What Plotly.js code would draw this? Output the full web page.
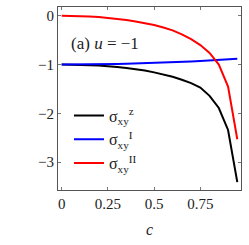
<!DOCTYPE html>
<html><head><meta charset="utf-8">
<script src="https://cdn.plot.ly/plotly-3.0.1.min.js"></script>
<style>html,body{margin:0;padding:0;background:#fff;}#g{width:249px;height:245px;}</style>
</head><body><div id="g"></div>
<script>
const c = [0,0.05,0.1,0.15,0.2,0.25,0.3,0.35,0.4,0.45,0.5,0.55,0.6,0.65,0.7,0.75,0.8,0.85,0.9,0.95];
const sigmaZ = [-1.0,-1.001,-1.005,-1.012,-1.02,-1.03,-1.05,-1.07,-1.09,-1.12,-1.16,-1.2,-1.25,-1.31,-1.38,-1.47,-1.64,-1.89,-2.34,-3.41];
const sigmaI = [-1.0,-1.0,-0.999,-0.997,-0.995,-0.992,-0.988,-0.984,-0.979,-0.974,-0.968,-0.961,-0.953,-0.945,-0.936,-0.927,-0.917,-0.906,-0.895,-0.882];
const sigmaII = [0,-0.002,-0.007,-0.015,-0.027,-0.042,-0.06,-0.085,-0.115,-0.15,-0.19,-0.24,-0.3,-0.38,-0.48,-0.6,-0.76,-1.0,-1.45,-2.53];
const xTicks = [0,0.25,0.5,0.75];
const xTickText = ['0','0.25','0.5','0.75'];
const yTicks = [0,-1,-2,-3];
const yTickText = ['0','−1','−2','−3'];
const names = ['σ<sub>xy</sub><sup>z</sup>','σ<sub>xy</sub><sup>I</sup>','σ<sub>xy</sub><sup>II</sup>'];
const font = {family:'Liberation Serif, DejaVu Serif, serif', size:15, color:'#222'};
const traces = [
  {x:c,y:sigmaZ,name:names[0],mode:'lines',line:{color:'#000',width:2}},
  {x:c,y:sigmaI,name:names[1],mode:'lines',line:{color:'#0000ff',width:2}},
  {x:c,y:sigmaII,name:names[2],mode:'lines',line:{color:'#ff0000',width:2}}
];
const ax = {showgrid:false,zeroline:false,showline:true,mirror:'ticks',linecolor:'#555',linewidth:1,
  ticks:'inside',ticklen:3,tickcolor:'#777',tickfont:font};
const layout = {
  width:249,height:245,margin:{l:58,r:8,t:7,b:55},
  paper_bgcolor:'#fff',plot_bgcolor:'#fff',font:font,
  xaxis:Object.assign({},ax,{range:[-0.02,0.97],tickvals:xTicks,ticktext:xTickText,
    title:{text:'<i>c</i>',font:Object.assign({},font,{size:16}),standoff:12}}),
  yaxis:Object.assign({},ax,{range:[-3.57,0.18],tickvals:yTicks,ticktext:yTickText}),
  showlegend:true,
  legend:{x:0.06,y:0.5,xanchor:'left',yanchor:'top',bgcolor:'rgba(0,0,0,0)',font:Object.assign({},font,{size:16}),
    tracegroupgap:0,itemwidth:30},
  annotations:[{xref:'paper',yref:'paper',x:0.06,y:0.80,xanchor:'left',yanchor:'middle',showarrow:false,
    text:'(a) <i>u</i> = −1',font:Object.assign({},font,{size:17})}]
};
Plotly.newPlot('g',traces,layout,{displayModeBar:false,staticPlot:true});
</script></body></html>
